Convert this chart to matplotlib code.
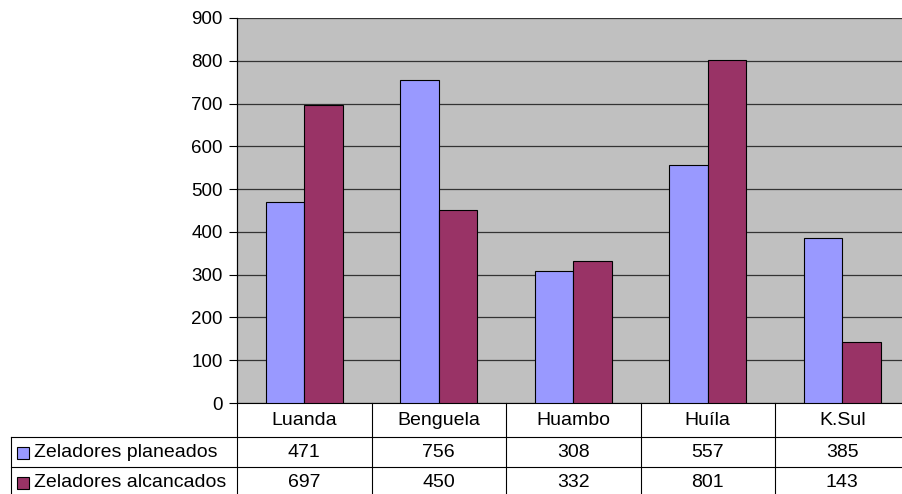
import matplotlib.pyplot as plt
import matplotlib.transforms as mtransforms
import numpy as np

plt.rcParams['font.family'] = ['Liberation Sans', 'DejaVu Sans']

# dados
regioes = ["Luanda", "Benguela", "Huambo", "Huíla", "K.Sul"]
planeados = [471, 756, 308, 557, 385]
alcancados = [697, 450, 332, 801, 143]
series = ["Zeladores planeados", "Zeladores alcancados"]
cores = ["#9999FF", "#993366"]

fs = 13.5
fs_tab = 14
W, H = 902, 494
fig = plt.figure(figsize=(W / 100, H / 100), dpi=100)
# area do grafico em pixels (esquerda 237, topo 18, baixo 403), sai pela direita
esq, topo, baixo = 237, 18, 403
larg_cat = 134.5
ax = fig.add_axes([esq / W, (H - baixo) / H, 5 * larg_cat / W, (baixo - topo) / H])
ax.set_facecolor("#C0C0C0")

x = np.arange(len(regioes))
w = 1 / 3.5
ax.bar(x - w / 2, planeados, w, color=cores[0], edgecolor="black", linewidth=0.8, zorder=3)
ax.bar(x + w / 2, alcancados, w, color=cores[1], edgecolor="black", linewidth=0.8, zorder=3)

ax.set_xlim(-0.5, len(regioes) - 0.5)
ax.set_ylim(0, 900)
ax.set_yticks(np.arange(0, 901, 100))
ax.tick_params(axis="y", direction="out", length=5.8, width=0.8, labelsize=fs, pad=4.5)
ax.set_xticks([])
ax.grid(axis="y", color="#333333", linewidth=0.9, zorder=1)
for s in ["top", "right", "bottom"]:
    ax.spines[s].set_visible(False)
ax.spines["left"].set_linewidth(0.8)

# tabela de dados por baixo
ph = baixo - topo
def ya(px):
    return (baixo - px) / ph

trans = mtransforms.blended_transform_factory(ax.transData, ax.transAxes)
linha = dict(color="black", linewidth=0.8, clip_on=False)
y_fim = ya(500)
# linhas verticais entre categorias
for i in range(len(regioes) + 1):
    ax.plot([i - 0.5, i - 0.5], [1 if i == 0 else 0, y_fim], transform=trans, **linha)
# linha horizontal do topo da tabela
ax.plot([-0.5, len(regioes) - 0.5], [0, 0], transform=trans, **linha)
# linhas horizontais incluindo coluna dos rotulos
xa_esq = (11 - esq) / (5 * larg_cat)
for py in [437, 467]:
    ax.plot([xa_esq, 1], [ya(py), ya(py)], transform=ax.transAxes, **linha)
ax.plot([xa_esq, xa_esq], [ya(437), y_fim], transform=ax.transAxes, **linha)

for i, r in enumerate(regioes):
    ax.text(i, ya(420), r, transform=trans, ha="center", va="center", fontsize=fs_tab)
    ax.text(i, ya(452.5), str(planeados[i]), transform=trans, ha="center", va="center", fontsize=fs_tab)
    ax.text(i, ya(482.5), str(alcancados[i]), transform=trans, ha="center", va="center", fontsize=fs_tab)

xa_chave = (22.5 - esq) / (5 * larg_cat)
xa_txt = (34 - esq) / (5 * larg_cat)
for j, (nome, cor) in enumerate(zip(series, cores)):
    yc = ya(452.5 + 30 * j)
    ax.plot([xa_chave], [yc], marker="s", markersize=9, markerfacecolor=cor,
            markeredgecolor="black", markeredgewidth=0.8, transform=ax.transAxes, clip_on=False)
    ax.text(xa_txt, yc, nome, transform=ax.transAxes, ha="left", va="center", fontsize=fs_tab)

fig.savefig("out.png", dpi=100)
